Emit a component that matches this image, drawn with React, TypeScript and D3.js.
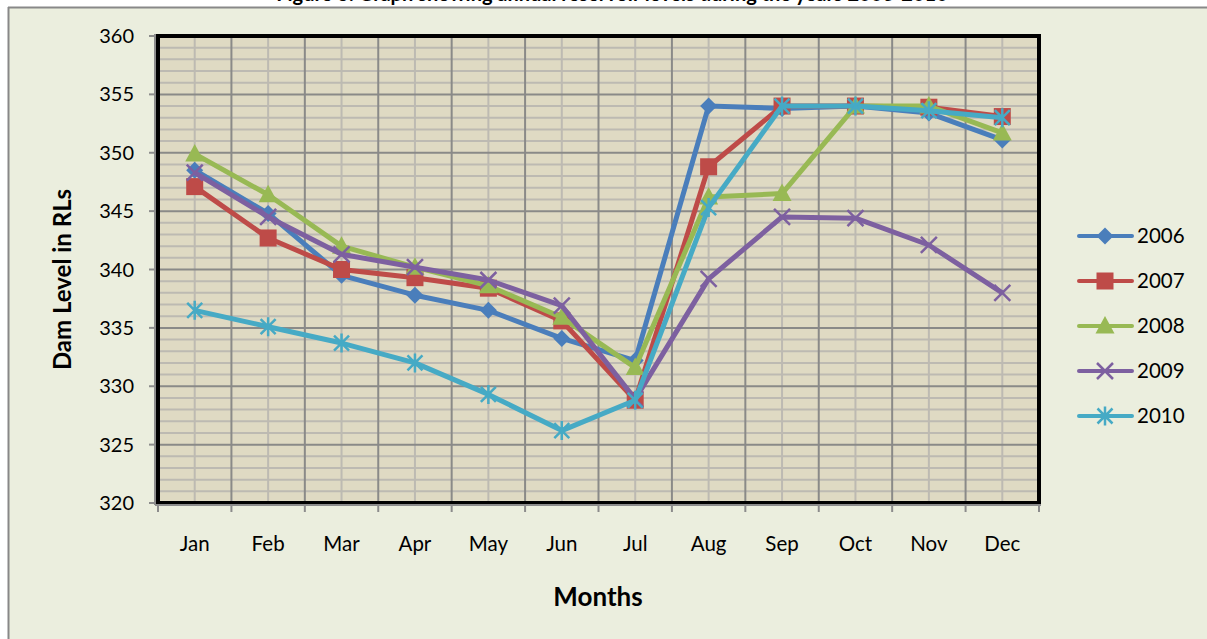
import React from "react";
import * as d3 from "d3";

const months = ["Jan", "Feb", "Mar", "Apr", "May", "Jun", "Jul", "Aug", "Sep", "Oct", "Nov", "Dec"];
const years = ["2006", "2007", "2008", "2009", "2010"];
const s2006 = [348.5, 344.8, 339.5, 337.8, 336.5, 334.1, 332.2, 354.0, 353.8, 354.0, 353.4, 351.1];
const s2007 = [347.1, 342.7, 340.0, 339.3, 338.4, 335.6, 328.8, 348.8, 354.0, 354.0, 353.9, 353.1];
const s2008 = [349.9, 346.4, 342.0, 340.2, 338.6, 335.9, 331.6, 346.2, 346.5, 354.0, 354.0, 351.7];
const s2009 = [348.3, 344.5, 341.3, 340.2, 339.1, 336.9, 328.9, 339.2, 344.5, 344.4, 342.1, 338.0];
const s2010 = [336.5, 335.1, 333.7, 332.0, 329.3, 326.2, 328.8, 345.3, 354.0, 354.0, 353.6, 353.0];
const yTicks = [320, 325, 330, 335, 340, 345, 350, 355, 360];
const seriesValues = [s2006, s2007, s2008, s2009, s2010];
const colors = ["#4A7EBB", "#BE4B48", "#98B954", "#7D60A0", "#46AAC5"];
const markerTypes = ["diamond", "square", "triangle", "x", "star"];

const FONT = "Lato, 'Open Sans', sans-serif";

function Marker({ type, x, y, color }: { type: string; x: number; y: number; color: string }) {
  const s = 8.5;
  if (type === "diamond") {
    return <path d={`M${x},${y - s}L${x + s},${y}L${x},${y + s}L${x - s},${y}Z`} fill={color} />;
  }
  if (type === "square") {
    return <rect x={x - 8.5} y={y - 8.5} width={17} height={17} fill={color} />;
  }
  if (type === "triangle") {
    return <path d={`M${x},${y - 10}L${x + 9.5},${y + 7.5}L${x - 9.5},${y + 7.5}Z`} fill={color} />;
  }
  if (type === "x") {
    const k = 8;
    return (
      <path d={`M${x - k},${y - k}L${x + k},${y + k}M${x - k},${y + k}L${x + k},${y - k}`} stroke={color} strokeWidth={2.5} fill="none" />
    );
  }
  const k = 7.5;
  return (
    <path
      d={`M${x - k},${y - k}L${x + k},${y + k}M${x - k},${y + k}L${x + k},${y - k}M${x},${y - 9.5}L${x},${y + 9.5}`}
      stroke={color}
      strokeWidth={2.5}
      fill="none"
    />
  );
}

export default function App() {
  const W = 1207;
  const H = 639;
  const left = 158;
  const right = 1039;
  const top = 36;
  const bottom = 503;

  const x = d3.scaleBand<string>().domain(months).range([left, right]).padding(0);
  const y = d3.scaleLinear().domain([320, 360]).range([bottom, top]);
  const cx = (m: string) => (x(m) as number) + x.bandwidth() / 2;

  const minor = d3.range(320, 361, 1).filter((v) => v % 5 !== 0);
  const line = d3
    .line<number>()
    .x((_, i) => cx(months[i]))
    .y((v) => y(v));

  const legendX = 1105;
  const legendY0 = 236;
  const legendStep = 45;

  return (
    <svg width={W} height={H} style={{ position: "absolute", left: 0, top: 0 }} fontFamily={FONT}>
      <defs>
        <clipPath id="titleClip">
          <rect x={0} y={0} width={W} height={7} />
        </clipPath>
      </defs>
      <rect x={0} y={0} width={W} height={H} fill="#ffffff" />
      <g clipPath="url(#titleClip)">
        <text x={612} y={1} textAnchor="middle" fontSize={20} fontWeight="bold" fill="#000">
          Figure 3: Graph showing annual reservoir levels during the years 2006-2010
        </text>
      </g>
      <rect x={8} y={7} width={W} height={H} fill="#EBEEDE" />
      <line x1={8} y1={7.5} x2={W} y2={7.5} stroke="#888" strokeWidth={2} />
      <line x1={8.5} y1={7} x2={8.5} y2={H} stroke="#888" strokeWidth={2} />

      {/* plot area */}
      <rect x={left} y={top} width={right - left} height={bottom - top} fill="#DFDAC3" />

      {/* minor horizontal grid */}
      {minor.map((v) => (
        <line key={"mh" + v} x1={left} x2={right} y1={y(v)} y2={y(v)} stroke="#BDBAB2" strokeWidth={2} />
      ))}
      {/* minor vertical grid at centers */}
      {months.map((m) => (
        <line key={"mv" + m} x1={cx(m)} x2={cx(m)} y1={top} y2={bottom} stroke="#BDBAB2" strokeWidth={2} />
      ))}
      {/* major horizontal grid */}
      {yTicks.map((v) => (
        <line key={"h" + v} x1={left} x2={right} y1={y(v)} y2={y(v)} stroke="#8A8A88" strokeWidth={2} />
      ))}
      {/* major vertical grid at boundaries */}
      {months.map((m) => (
        <line key={"v" + m} x1={x(m) as number} x2={x(m) as number} y1={top} y2={bottom} stroke="#8A8A88" strokeWidth={2} />
      ))}

      {/* plot border */}
      <rect x={left} y={top} width={right - left} height={bottom - top} fill="none" stroke="#000" strokeWidth={4} />

      {/* axes */}
      <line x1={155} x2={155} y1={top - 2} y2={bottom + 2} stroke="#8C8C8C" strokeWidth={2} />
      <line x1={155} x2={right + 2} y1={bottom + 2} y2={bottom + 2} stroke="#8C8C8C" strokeWidth={2} />
      {yTicks.map((v) => (
        <line key={"yt" + v} x1={149} x2={155} y1={y(v)} y2={y(v)} stroke="#8C8C8C" strokeWidth={2} />
      ))}
      {[...months.map((m) => x(m) as number), right].map((px, i) => (
        <line key={"xt" + i} x1={px} x2={px} y1={bottom + 2} y2={bottom + 9} stroke="#8C8C8C" strokeWidth={2} />
      ))}

      {/* tick labels */}
      {yTicks.map((v) => (
        <text key={"yl" + v} x={134} y={y(v)} dy="0.35em" textAnchor="end" fontSize={20} fill="#000">
          {v}
        </text>
      ))}
      {months.map((m) => (
        <text key={"xl" + m} x={cx(m)} y={544} dy="0.35em" textAnchor="middle" fontSize={20.5} fill="#000">
          {m}
        </text>
      ))}

      {/* axis titles */}
      <text
        transform={`translate(63,${(top + bottom) / 2 + 10}) rotate(-90)`}
        textAnchor="middle"
        dy="0.35em"
        fontSize={24}
        fontWeight="bold"
        fill="#000"
      >
        Dam Level in RLs
      </text>
      <text x={598} y={597} dy="0.35em" textAnchor="middle" fontSize={26} fontWeight="bold" fill="#000">
        Months
      </text>

      {/* series */}
      {seriesValues.map((vals, si) => (
        <g key={"s" + si}>
          <path d={line(vals) as string} fill="none" stroke={colors[si]} strokeWidth={5} strokeLinejoin="round" />
          {vals.map((v, i) => (
            <Marker key={i} type={markerTypes[si]} x={cx(months[i])} y={y(v)} color={colors[si]} />
          ))}
        </g>
      ))}

      {/* legend */}
      {years.map((yr, i) => {
        const ly = legendY0 + i * legendStep;
        return (
          <g key={"lg" + yr}>
            <line x1={1079} x2={1132} y1={ly} y2={ly} stroke={colors[i]} strokeWidth={4} strokeLinecap="round" />
            <Marker type={markerTypes[i]} x={legendX} y={ly} color={colors[i]} />
            <text x={1137} y={ly} dy="0.35em" fontSize={20.5} fill="#000">
              {yr}
            </text>
          </g>
        );
      })}
    </svg>
  );
}
